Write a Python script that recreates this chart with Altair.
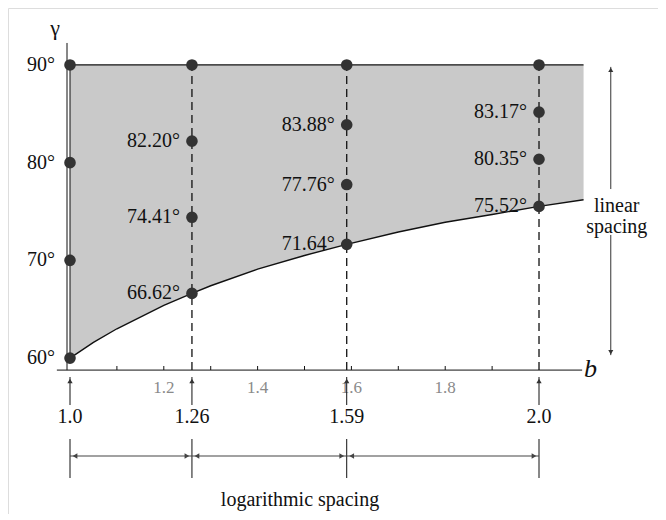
import altair as alt
import pandas as pd

# ---------------- data ----------------
col_b = [1.0, 1.26, 1.59, 2.0]
col_text = ["1.0", "1.26", "1.59", "2.0"]

pt_b = [1.0, 1.0, 1.0, 1.0,
        1.26, 1.26, 1.26, 1.26,
        1.59, 1.59, 1.59, 1.59,
        2.0, 2.0, 2.0, 2.0]
pt_gamma = [60, 70, 80, 90,
            66.62, 74.41, 82.20, 90,
            71.64, 77.76, 83.88, 90,
            75.52, 80.35, 85.17, 90]

lab_b = [1.26, 1.26, 1.26, 1.59, 1.59, 1.59, 2.0, 2.0, 2.0]
lab_gamma = [66.62, 74.41, 82.20, 71.64, 77.76, 83.88, 75.52, 80.35, 85.17]
lab_text = ["66.62°", "74.41°", "82.20°", "71.64°", "77.76°", "83.88°",
            "75.52°", "80.35°", "83.17°"]

curve_b = [1.0, 1.05, 1.1, 1.15, 1.2, 1.26, 1.3, 1.4, 1.5, 1.59,
           1.7, 1.8, 1.9, 2.0, 2.095]
curve_gamma = [60.0, 61.6, 63.0, 64.2, 65.4, 66.62, 67.4, 69.1, 70.5, 71.64,
               72.9, 73.9, 74.7, 75.52, 76.2]

ytick_vals = [60, 70, 80, 90]
ytick_text = ["60°", "70°", "80°", "90°"]

xtick_vals = [1.1, 1.2, 1.3, 1.4, 1.5, 1.6, 1.7, 1.8, 1.9]
xlab_vals = [1.2, 1.4, 1.6, 1.8]
xlab_text = ["1.2", "1.4", "1.6", "1.8"]

# ---------------- scales ----------------
W, H = 650, 506
xs = alt.Scale(domain=[0.8678, 2.2537], nice=False, zero=False)
ys = alt.Scale(domain=[44.04, 95.83], nice=False, zero=False)
FONT = "Liberation Serif"
INK = "#111111"


def X(f):
    return alt.X(f, type="quantitative", scale=xs, axis=None)


def X2(f):
    return alt.X2(f)


def Y(f):
    return alt.Y(f, type="quantitative", scale=ys, axis=None)


def Y2(f):
    return alt.Y2(f)


AXIS_G = 58.77
B_END = 2.095

# shaded region
df_area = pd.DataFrame({"b": curve_b, "g": curve_gamma, "top": [90] * len(curve_b)})
area = alt.Chart(df_area).mark_area(color="#c9c9c9", opacity=1).encode(
    x=X("b"), y=Y("g"), y2=Y2("top"))
curve = alt.Chart(df_area).mark_line(color=INK, strokeWidth=1.4).encode(
    x=X("b"), y=Y("g"))

top_line = alt.Chart(pd.DataFrame({"b": [1.0], "b2": [B_END], "g": [90]})).mark_rule(
    color=INK, strokeWidth=1.3).encode(x=X("b"), x2=X2("b2"), y=Y("g"))
left_edge = alt.Chart(pd.DataFrame({"b": [1.0], "g": [60], "g2": [90]})).mark_rule(
    color=INK, strokeWidth=1).encode(x=X("b"), y=Y("g"), y2=Y2("g2"))

dashed = alt.Chart(pd.DataFrame({"b": col_b[1:], "g": [AXIS_G] * 3, "g2": [90] * 3})).mark_rule(
    color=INK, strokeWidth=1.3, strokeDash=[8, 5]).encode(x=X("b"), y=Y("g"), y2=Y2("g2"))

y_axis = alt.Chart(pd.DataFrame({"b": [0.9936], "g": [AXIS_G], "g2": [92.25]})).mark_rule(
    color=INK, strokeWidth=1).encode(x=X("b"), y=Y("g"), y2=Y2("g2"))
x_axis = alt.Chart(pd.DataFrame({"b": [0.972], "b2": [2.092], "g": [AXIS_G]})).mark_rule(
    color=INK, strokeWidth=1).encode(x=X("b"), x2=X2("b2"), y=Y("g"))

ticks = alt.Chart(pd.DataFrame({"b": xtick_vals})).mark_rule(color=INK, strokeWidth=1).encode(
    x=X("b"), y=alt.value(362), y2=alt.value(358))
tick_labels = alt.Chart(pd.DataFrame({"b": xlab_vals, "t": xlab_text})).mark_text(
    font=FONT, fontSize=17, color="#8a8a8a", baseline="middle", align="center").encode(
    x=X("b"), y=alt.value(380), text="t:N")

points = alt.Chart(pd.DataFrame({"b": pt_b, "g": pt_gamma})).mark_circle(
    size=135, color="#333333", opacity=1).encode(x=X("b"), y=Y("g"))
point_labels = alt.Chart(pd.DataFrame({"b": lab_b, "g": lab_gamma, "t": lab_text})).mark_text(
    font=FONT, fontSize=20, color=INK, align="right", baseline="middle", dx=-12).encode(
    x=X("b"), y=Y("g"), text="t:N")

ytick_labels = alt.Chart(pd.DataFrame({"g": ytick_vals, "t": ytick_text})).mark_text(
    font=FONT, fontSize=20, color=INK, align="right", baseline="middle").encode(
    x=alt.value(47), y=Y("g"), text="t:N")

gamma_label = alt.Chart(pd.DataFrame({"t": ["γ"]})).mark_text(
    font=FONT, fontSize=22, color=INK, align="center", baseline="middle").encode(
    x=alt.value(47), y=alt.value(20), text="t:N")
b_label = alt.Chart(pd.DataFrame({"t": ["b"]})).mark_text(
    font=FONT, fontSize=26, fontStyle="italic", color=INK, align="left", baseline="middle").encode(
    x=alt.value(576), y=alt.value(361), text="t:N")

df_cols = pd.DataFrame({"b": col_b, "t": col_text})
up_lines = alt.Chart(df_cols).mark_rule(color=INK, strokeWidth=1).encode(
    x=X("b"), y=alt.value(369), y2=alt.value(397))
up_heads = alt.Chart(df_cols).mark_point(shape="triangle-up", filled=True, size=28,
                                         color="#333333", opacity=1).encode(
    x=X("b"), y=alt.value(373))
col_labels = alt.Chart(df_cols).mark_text(
    font=FONT, fontSize=20, color=INK, align="center", baseline="middle").encode(
    x=X("b"), y=alt.value(409), text="t:N")

low_lines = alt.Chart(df_cols).mark_rule(color=INK, strokeWidth=1).encode(
    x=X("b"), y=alt.value(431), y2=alt.value(470))
df_seg = pd.DataFrame({"b1": col_b[:-1], "b2": col_b[1:]})
seg_lines = alt.Chart(df_seg).mark_rule(color="#444444", strokeWidth=1.2).encode(
    x=X("b1"), x2=X2("b2"), y=alt.value(448))
seg_left = alt.Chart(df_seg).mark_point(shape="triangle-left", filled=True, size=30,
                                        color="#444444", opacity=1, xOffset=5).encode(
    x=X("b1"), y=alt.value(448))
seg_right = alt.Chart(df_seg).mark_point(shape="triangle-right", filled=True, size=30,
                                         color="#444444", opacity=1, xOffset=-5).encode(
    x=X("b2"), y=alt.value(448))
log_text = alt.Chart(pd.DataFrame({"t": ["logarithmic spacing"]})).mark_text(
    font=FONT, fontSize=20, color=INK, align="center", baseline="middle").encode(
    x=alt.value(292), y=alt.value(492), text="t:N")

LIN_B = 2.153
lin_up = alt.Chart(pd.DataFrame({"b": [LIN_B], "g": [77.3], "g2": [89.8]})).mark_rule(
    color="#333333", strokeWidth=1).encode(x=X("b"), y=Y("g"), y2=Y2("g2"))
lin_down = alt.Chart(pd.DataFrame({"b": [LIN_B], "g": [60.3], "g2": [72.6]})).mark_rule(
    color="#333333", strokeWidth=1).encode(x=X("b"), y=Y("g"), y2=Y2("g2"))
lin_head_up = alt.Chart(pd.DataFrame({"b": [LIN_B], "g": [89.5]})).mark_point(
    shape="triangle-up", filled=True, size=26, color="#333333", opacity=1).encode(
    x=X("b"), y=Y("g"))
lin_head_down = alt.Chart(pd.DataFrame({"b": [LIN_B], "g": [60.6]})).mark_point(
    shape="triangle-down", filled=True, size=26, color="#333333", opacity=1).encode(
    x=X("b"), y=Y("g"))
lin_text = alt.Chart(pd.DataFrame({"b": [LIN_B, LIN_B], "g": [75.6, 73.4],
                                   "t": ["linear", "spacing"]})).mark_text(
    font=FONT, fontSize=20, color=INK, align="center", baseline="middle", dx=6).encode(
    x=X("b"), y=Y("g"), text="t:N")

chart = alt.layer(
    area, top_line, left_edge, dashed, curve, y_axis, x_axis, ticks, tick_labels,
    points, point_labels, ytick_labels, gamma_label, b_label,
    up_lines, up_heads, col_labels, low_lines, seg_lines, seg_left, seg_right, log_text,
    lin_up, lin_down, lin_head_up, lin_head_down, lin_text,
).properties(
    width=W, height=H, padding=0, autosize=alt.AutoSizeParams(type="none")
).configure_view(stroke="#111111", strokeWidth=1.2).configure(background="white")

chart.save("out.html", embed_options={"renderer": "svg", "actions": False})
